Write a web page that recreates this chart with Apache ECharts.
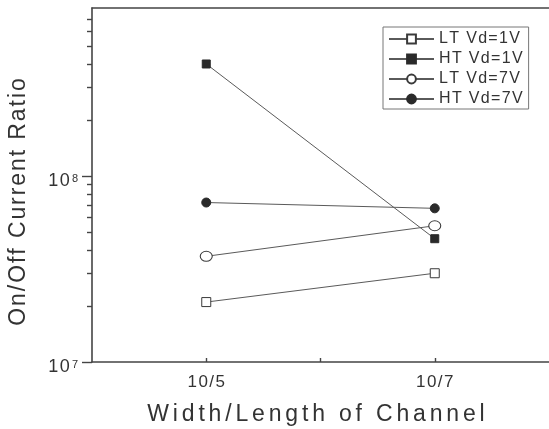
<!DOCTYPE html>
<html>
<head>
<meta charset="utf-8">
<script src="https://cdn.jsdelivr.net/npm/echarts@6/dist/echarts.min.js"></script>
<style>
  html, body { margin: 0; padding: 0; background: #fff; }
  #chart { width: 549px; height: 429px; }
</style>
</head>
<body>
<div id="chart"></div>
<script>
// Channel geometries (W/L) on the x axis
const categories = ['10/5', '10/7'];

// On/Off current ratio per geometry
const ltVd1 = [2.1e7, 3.0e7];
const htVd1 = [4.0e8, 4.6e7];
const ltVd7 = [3.7e7, 5.4e7];
const htVd7 = [7.2e7, 6.7e7];

const seriesNames = ['LT Vd=1V', 'HT Vd=1V', 'LT Vd=7V', 'HT Vd=7V'];

// Log axis range and tick values
const yMin = 1e7;
const yMax = 8e8;
const yMajorTicks = [1e7, 1e8];
const yMinorTicks = [2e7, 3e7, 4e7, 5e7, 6e7, 7e7, 8e7, 9e7,
                     2e8, 3e8, 4e8, 5e8, 6e8, 7e8];

const FONT = '"Liberation Sans", Arial, Helvetica, sans-serif';
const TEXT = '#333';
const LINE = '#5a5a5a';
const FRAME = '#444';

// widen text by putting a thin gap between glyphs
function spaced(s, gap) {
  return s.split('').join(gap);
}
const HAIR = '\u200A';
const SIXTH = '\u2006';

function toPoints(vals) {
  return vals.map((v, i) => [i + 1, v]);
}

const chart = echarts.init(document.getElementById('chart'), null, { renderer: 'canvas' });

const openStyle = { color: '#fff', borderColor: '#3a3a3a', borderWidth: 1 };
const fillStyle = { color: '#2a2a2a', borderColor: '#2a2a2a', borderWidth: 1 };

function lineSeries(name, vals, symbol, size, style) {
  return {
    name: name,
    type: 'line',
    data: toPoints(vals),
    symbol: symbol,
    symbolSize: size,
    showSymbol: true,
    lineStyle: { color: LINE, width: 1 },
    itemStyle: style,
    emphasis: { disabled: true },
    animation: false,
    z: 3
  };
}

chart.setOption({
  animation: false,
  backgroundColor: '#fff',
  grid: {
    left: 92,
    top: 8,
    width: 459,
    bottom: 67,
    show: false
  },
  legend: {
    orient: 'vertical',
    left: 383,
    top: 27,
    padding: [4, 6, 2, 5],
    itemWidth: 45,
    itemHeight: 11,
    itemGap: 4,
    borderColor: '#777',
    borderWidth: 1,
    backgroundColor: '#fff',
    data: seriesNames,
    formatter: name => spaced(name, HAIR),
    textStyle: { fontFamily: FONT, fontSize: 16, color: TEXT }
  },
  xAxis: [
    {
      type: 'value',
      min: 0.5,
      max: 2.5,
      interval: 0.5,
      axisLine: { show: true, lineStyle: { color: FRAME, width: 1.6 } },
      axisTick: {
        show: true, inside: true, length: 4,
        customValues: [1, 1.5, 2],
        lineStyle: { color: FRAME, width: 1.4 }
      },
      axisLabel: {
        customValues: [1, 2],
        margin: 12,
        fontFamily: FONT,
        fontSize: 17,
        color: TEXT,
        formatter: v => spaced(categories[Math.round(v) - 1] || '', HAIR)
      },
      splitLine: { show: false }
    },
    {
      // top frame line
      type: 'value',
      position: 'top',
      min: 0.5,
      max: 2.5,
      interval: 0.5,
      axisLine: { show: true, lineStyle: { color: FRAME, width: 1.6 } },
      axisTick: { show: false },
      axisLabel: { show: false },
      splitLine: { show: false }
    }
  ],
  yAxis: [
    {
      type: 'log',
      logBase: 10,
      min: yMin,
      max: yMax,
      axisLine: { show: true, lineStyle: { color: FRAME, width: 1.6 } },
      axisTick: {
        show: true, inside: false, length: 10,
        customValues: yMajorTicks,
        lineStyle: { color: FRAME, width: 1.4 }
      },
      axisLabel: {
        customValues: yMajorTicks,
        margin: 14,
        formatter: v => '{b|' + spaced('10', HAIR) + '}{s|' + Math.round(Math.log10(v)) + '}',
        rich: {
          b: { fontFamily: FONT, fontSize: 18, lineHeight: 17, color: TEXT, padding: [11, 0, 0, 0] },
          s: { fontFamily: FONT, fontSize: 11, lineHeight: 11, color: TEXT, verticalAlign: 'top', padding: [6, 0, 0, 2] }
        }
      },
      splitLine: { show: false }
    },
    {
      // minor ticks of the log decades
      type: 'log',
      logBase: 10,
      min: yMin,
      max: yMax,
      position: 'left',
      axisLine: { show: false },
      axisTick: {
        show: true, inside: false, length: 5,
        customValues: yMinorTicks,
        lineStyle: { color: FRAME, width: 1.4 }
      },
      axisLabel: { show: false },
      splitLine: { show: false }
    }
  ],
  graphic: [
    {
      type: 'text',
      x: 19,
      y: 202,
      rotation: Math.PI / 2,
      style: {
        text: spaced('On/Off Current Ratio', HAIR),
        font: '23px ' + FONT,
        fill: TEXT,
        textAlign: 'center',
        textVerticalAlign: 'middle'
      }
    },
    {
      type: 'text',
      x: 316,
      y: 415,
      style: {
        text: spaced('Width/Length of Channel', SIXTH),
        font: '23px ' + FONT,
        fill: TEXT,
        textAlign: 'center',
        textVerticalAlign: 'middle'
      }
    }
  ],
  series: [
    lineSeries(seriesNames[0], ltVd1, 'rect', 9, openStyle),
    lineSeries(seriesNames[1], htVd1, 'rect', 8, fillStyle),
    lineSeries(seriesNames[2], ltVd7, 'circle', [12, 10], openStyle),
    lineSeries(seriesNames[3], htVd7, 'circle', 9, fillStyle)
  ]
});
</script>
</body>
</html>
